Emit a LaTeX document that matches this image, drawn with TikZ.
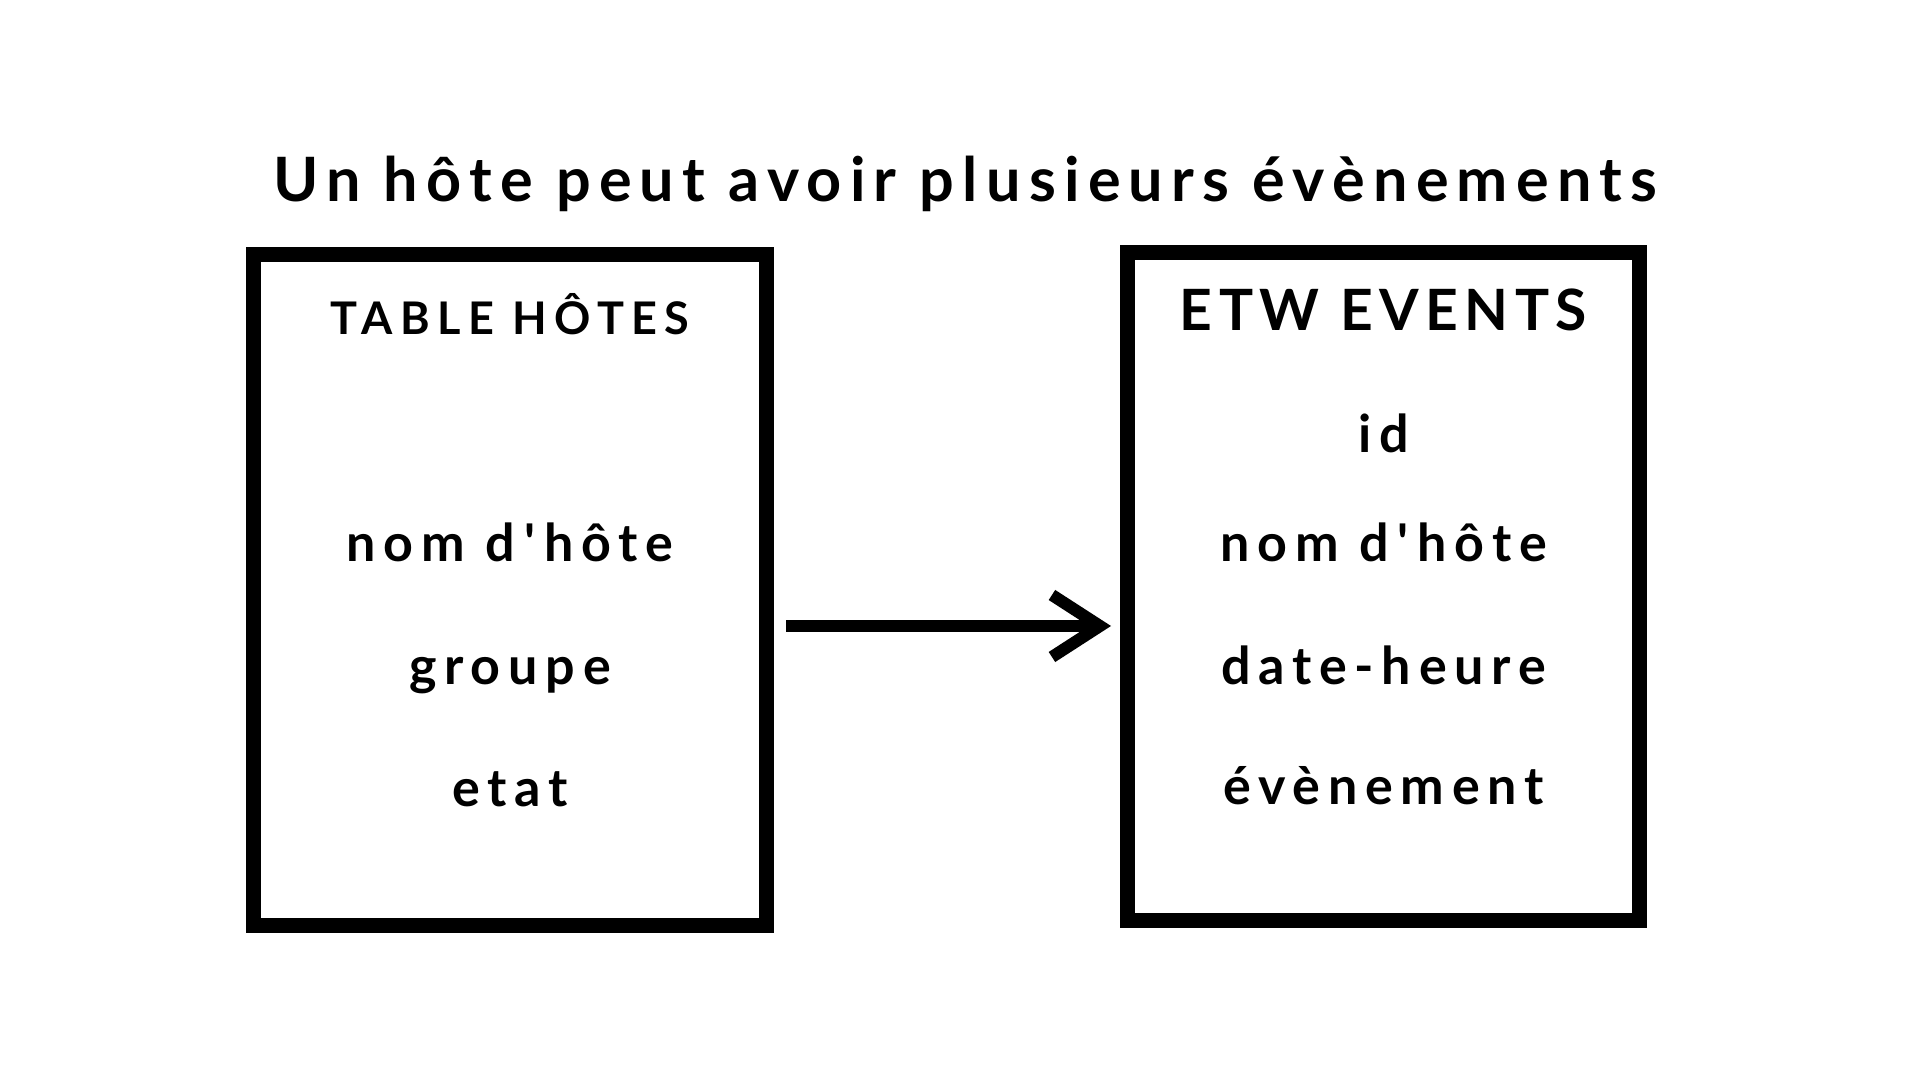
\documentclass[tikz,border=0pt]{standalone}
\usepackage{fontspec}
\setmainfont{Lato}
\usetikzlibrary{arrows.meta}

\newcommand{\apos}{\kern0.09cm\textquotesingle\kern0.09cm}

\tikzset{
  tablebox/.style={draw, line width=0.15cm, inner sep=0pt},
  link/.style={line width=0.12cm, line cap=butt,
    -{Straight Barb[length=0.48cm, width=0.62cm, line join=miter]},
    shorten <=0.12cm, shorten >=0.09cm},
  headtext/.style={anchor=base, inner sep=0pt,
    font=\fontsize{17.4}{20}\selectfont\bfseries\addfontfeature{LetterSpace=13.5}},
  smallhead/.style={anchor=base, inner sep=0pt,
    font=\fontsize{12.8}{15}\selectfont\bfseries\addfontfeature{LetterSpace=16.5}},
  bighead/.style={anchor=base, inner sep=0pt,
    font=\fontsize{16.2}{19}\selectfont\bfseries\addfontfeature{LetterSpace=11.5}},
  field/.style={anchor=base, inner sep=0pt,
    font=\fontsize{14.8}{17}\selectfont\bfseries\addfontfeature{LetterSpace=15}}
}

\begin{document}
\begin{tikzpicture}
    \useasboundingbox (0, 0) rectangle (19.2, 10.8);
    \node[headtext] (titre) at (9.655, 8.78) {Un hôte peut avoir plusieurs évènements};
    % les deux tables
    \node[tablebox, minimum width=5.13cm, minimum height=6.71cm] (hotes) at (5.10, 4.90) {};
    \node[tablebox, minimum width=5.12cm, minimum height=6.68cm] (events) at (13.835, 4.93) {};
    \node[smallhead] (hotesnom) at (5.10, 7.45) {TABLE HÔTES};
    \node[bighead] (eventsnom) at (13.835, 7.49) {ETW EVENTS};
    \node[field] (hnom) at (5.10, 5.18) {nom d\apos hôte};
    \node[field] (hgroupe) at (5.10, 3.95) {groupe};
    \node[field] (hetat) at (5.10, 2.73) {etat};
    \node[field] (eid) at (13.835, 6.27) {id};
    \node[field] (enom) at (13.835, 5.18) {nom d\apos hôte};
    \node[field] (edate) at (13.835, 3.95) {date-heure};
    \node[field] (eevt) at (13.835, 2.75) {évènement};
    \draw[link] (hotes.east |- 0, 4.54) -- (events.west |- 0, 4.54);
\end{tikzpicture}
\end{document}
